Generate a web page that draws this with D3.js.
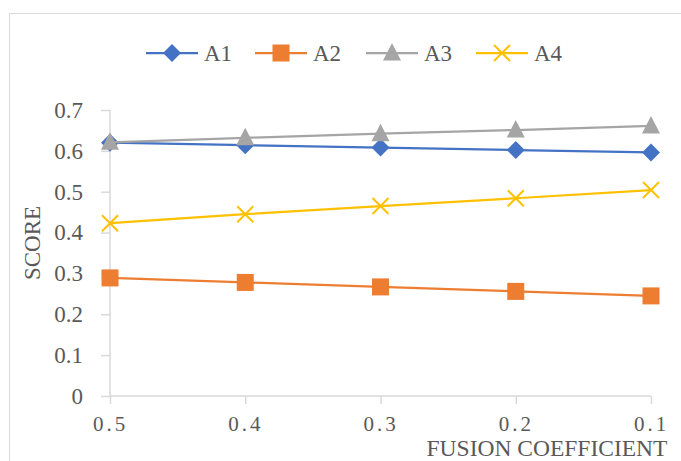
<!DOCTYPE html>
<html>
<head>
<meta charset="utf-8">
<script src="https://cdn.jsdelivr.net/npm/d3@7"></script>
<style>
  body { margin: 0; background: #fff; }
  text { font-family: "Liberation Serif", serif; fill: #595959; }
</style>
</head>
<body>
<div id="chart"></div>
<script>
// data
const categories = ["0.5", "0.4", "0.3", "0.2", "0.1"];
const seriesNames = ["A1", "A2", "A3", "A4"];
const a1 = [0.620, 0.614, 0.608, 0.602, 0.596];
const a2 = [0.289, 0.278, 0.267, 0.256, 0.245];
const a3 = [0.621, 0.632, 0.642, 0.651, 0.661];
const a4 = [0.423, 0.445, 0.465, 0.484, 0.504];
const yTicks = [0, 0.1, 0.2, 0.3, 0.4, 0.5, 0.6, 0.7];

const colors = ["#4472C4", "#ED7D31", "#A5A5A5", "#FFC000"];
const series = [a1, a2, a3, a4];

const W = 681, H = 461;
const margin = {top: 110, right: 30, bottom: 65, left: 110};
const width = 651 - margin.left, height = 396 - margin.top;

const svg = d3.select("#chart").append("svg")
  .attr("width", W).attr("height", H);

// chart border
svg.append("rect")
  .attr("x", 9.5).attr("y", 13.5)
  .attr("width", 700).attr("height", 500)
  .attr("fill", "none").attr("stroke", "#D9D9D9").attr("stroke-width", 1);

const g = svg.append("g")
  .attr("transform", `translate(${margin.left},${margin.top})`);

const x = d3.scalePoint().domain(categories).range([0, width]);
const y = d3.scaleLinear().domain([0, 0.7]).range([height, 0]);

// y axis
const yAxis = g.append("g")
  .call(d3.axisLeft(y).tickValues(yTicks).tickSize(9).tickPadding(18)
    .tickFormat(d => d === 0 ? "0" : d3.format(".1f")(d)));
yAxis.selectAll("line, path").attr("stroke", "#D9D9D9").attr("stroke-width", 1.5);
yAxis.select(".domain").attr("d", `M0,0V${height}`);
yAxis.selectAll("text").style("font-size", "23px").attr("fill", "#595959")
  .attr("font-family", "Liberation Serif");

// x axis
const xAxis = g.append("g")
  .attr("transform", `translate(0,${height})`)
  .call(d3.axisBottom(x).tickSize(8).tickPadding(12));
xAxis.selectAll("line, path").attr("stroke", "#D9D9D9").attr("stroke-width", 1.5);
xAxis.select(".domain").attr("d", `M0,0H${width}`);
xAxis.selectAll("text").style("font-size", "21px").attr("fill", "#595959")
  .attr("font-family", "Liberation Serif").style("letter-spacing", "3px");

// axis titles
svg.append("text")
  .attr("transform", `translate(40,243) rotate(-90)`)
  .attr("text-anchor", "middle")
  .style("font-size", "23px")
  .text("SCORE");
svg.append("text")
  .attr("x", 547).attr("y", 456)
  .attr("text-anchor", "middle")
  .style("font-size", "23.5px")
  .text("FUSION COEFFICIENT");

// lines
const line = d3.line()
  .x((d, i) => x(categories[i]))
  .y(d => y(d));

const markerPaths = [
  "M0,-9L9,0L0,9L-9,0Z",
  "M-8.5,-8.5H8.5V8.5H-8.5Z",
  "M0,-10L9,7.5H-9Z",
  "M-8,-8L8,8M-8,8L8,-8"
];

function drawMarker(sel, k) {
  const p = sel.append("path").attr("d", markerPaths[k]);
  if (k === 3) {
    p.attr("stroke", colors[k]).attr("stroke-width", 2).attr("fill", "none");
  } else {
    p.attr("fill", colors[k]);
  }
}

series.forEach((vals, k) => {
  g.append("path")
    .datum(vals)
    .attr("fill", "none")
    .attr("stroke", colors[k])
    .attr("stroke-width", 2.25)
    .attr("d", line);
  vals.forEach((v, i) => {
    const m = g.append("g")
      .attr("transform", `translate(${x(categories[i])},${y(v)})`);
    drawMarker(m, k);
  });
});

// legend
const legendX = [146, 255, 366, 476];
seriesNames.forEach((name, k) => {
  const lg = svg.append("g").attr("transform", `translate(${legendX[k]},53)`);
  lg.append("line").attr("x1", 0).attr("x2", 52).attr("y1", 0).attr("y2", 0)
    .attr("stroke", colors[k]).attr("stroke-width", 2.25);
  const m = lg.append("g").attr("transform", "translate(26,0)");
  drawMarker(m, k);
  lg.append("text").attr("x", 58).attr("y", 8)
    .style("font-size", "23px").text(name);
});
</script>
</body>
</html>
